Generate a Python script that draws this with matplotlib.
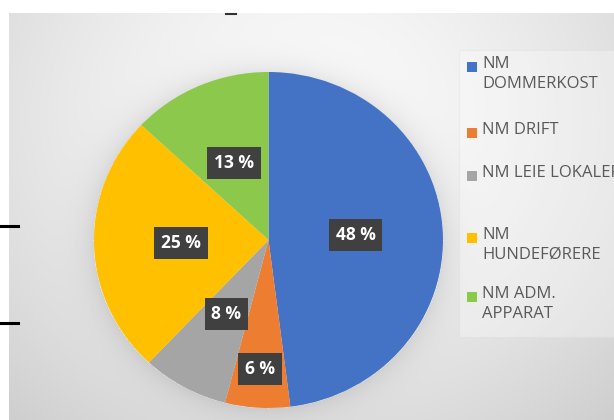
import numpy as np
import matplotlib
matplotlib.use("Agg")
import matplotlib.pyplot as plt
from matplotlib.patches import Rectangle
from matplotlib.lines import Line2D

# Données du graphique
categories = ["NM\nDOMMERKOST", "NM DRIFT", "NM LEIE LOKALER", "NM\nHUNDEFØRERE", "NM ADM.\nAPPARAT"]
values = [48, 6, 8, 25, 13]
labels = ["48 %", "6 %", "8 %", "25 %", "13 %"]
colors = ["#4472C4", "#ED7D31", "#A5A5A5", "#FFC000", "#8CC84B"]

W, H = 614, 420
fig = plt.figure(figsize=(W / 100, H / 100), dpi=100, facecolor="white")

# Fond gris en dégradé avec l'ombre du camembert
yy, xx = np.mgrid[0:H, 0:W].astype(float)
d = np.sqrt(((xx - 310) / 420) ** 2 + ((yy - 120) / 380) ** 2)
bg = 0.985 - 0.16 * d ** 1.5
re = np.sqrt(((xx - 268) / 175) ** 2 + ((yy - 240) / 168) ** 2)
bg -= np.where(re > 1, 0.08 * np.exp(-(re - 1) / 0.08), 0)
bg = np.clip(bg, 0, 1)
bg[:13, :] = 1.0
bg[:, :9] = 1.0
ax_bg = fig.add_axes([0, 0, 1, 1])
ax_bg.imshow(np.dstack([bg, bg, bg]), extent=(0, W, H, 0), aspect="auto", interpolation="bilinear")
ax_bg.set_xlim(0, W)
ax_bg.set_ylim(H, 0)
ax_bg.axis("off")

# Panneau de la légende
ax_bg.add_patch(Rectangle((459, 50), 160, 287, facecolor="white", alpha=0.3,
                          edgecolor="#dcdcdc", linewidth=0.8))

# Traits noirs à gauche et marque du titre coupé
fig.add_artist(Line2D([0, 18 / W], [1 - 226 / H] * 2, color="black", linewidth=2.2))
fig.add_artist(Line2D([0, 18 / W], [1 - 323 / H] * 2, color="black", linewidth=2.2))
fig.add_artist(Line2D([226 / W, 236 / W], [1 - 13.5 / H] * 2, color="#333333", linewidth=1.5))

# Camembert
ax = fig.add_axes([94 / W, 1 - 408 / H, 349 / W, 336 / H])
wedges, _ = ax.pie(values, colors=colors, startangle=90, counterclock=False,
                   wedgeprops=dict(linewidth=0))
ax.set_aspect("auto")
ax.set_xlim(-1, 1)
ax.set_ylim(-1, 1)
ax.axis("off")

label_dist = [0.5, 0.77, 0.5, 0.5, 0.5]
for w, lab, dist in zip(wedges, labels, label_dist):
    mid = np.deg2rad((w.theta1 + w.theta2) / 2)
    ax.text(dist * np.cos(mid), dist * np.sin(mid), lab, ha="center", va="center",
            color="white", fontsize=12.5, fontweight="bold", family="Open Sans",
            bbox=dict(boxstyle="square,pad=0.4", facecolor="#404040", edgecolor="none"))

# Légende
legend_y = [67, 133, 176, 238, 297]
for cat, col, y in zip(categories, colors, legend_y):
    ax_bg.add_patch(Rectangle((467, y - 5), 10, 10, facecolor=col, edgecolor="none"))
    ax_bg.text(482, y - 11, cat, ha="left", va="top", fontsize=12, color="#595959",
               family="Open Sans", linespacing=1.3)

fig.savefig("out.png", dpi=100)
